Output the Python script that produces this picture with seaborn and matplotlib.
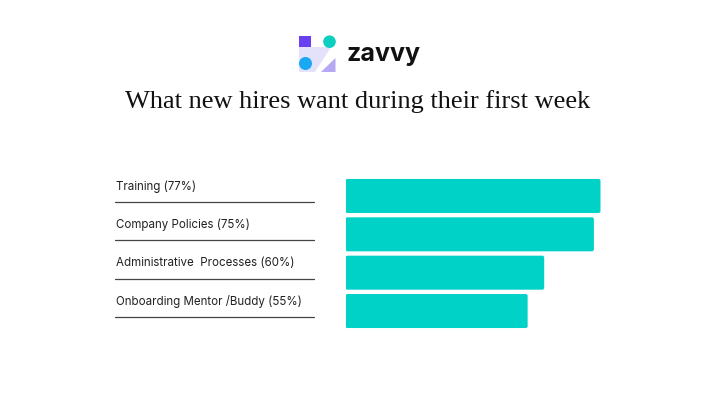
import matplotlib
matplotlib.use("Agg")
import matplotlib.pyplot as plt
import seaborn as sns
import pandas as pd
from matplotlib.transforms import blended_transform_factory
from matplotlib.patches import Rectangle, Circle, Polygon, FancyBboxPatch
from matplotlib.lines import Line2D

# ---- data ----
categories = ["Training", "Company Policies", "Administrative  Processes", "Onboarding Mentor /Buddy"]
values = [77, 75, 60, 55]
title = "What new hires want during their first week"
brand = "zavvy"

sns.set_theme(style="white")
plt.rcParams['font.family'] = ['Inter', 'DejaVu Sans']

W, H = 705, 398
fig = plt.figure(figsize=(W / 100, H / 100), dpi=100)
fig.patch.set_facecolor('white')


def fx(px):
    return px / W


def fy(py):
    return 1 - py / H


# ---- bars ----
ax_w_px = 255 / 0.77
ax_h_px = 330.2 - 176.8
ax = fig.add_axes([fx(345.5), fy(330.2), ax_w_px / W, ax_h_px / H])
df = pd.DataFrame({"category": categories, "value": values})
sns.barplot(data=df, x="value", y="category", color="#00d2c8", width=0.887,
            saturation=1, ax=ax, orient='h')
ax.set_xlim(0, 100)
ax.set_ylim(len(categories) - 0.5, -0.5)
ax.axis('off')

# slightly rounded bar corners
px_x = 100 / ax_w_px      # x data units per pixel
px_y = len(categories) / ax_h_px  # y data units per pixel
for p in list(ax.patches):
    x0, y0, w, h = p.get_x(), p.get_y(), p.get_width(), p.get_height()
    fc = p.get_facecolor()
    p.remove()
    ax.add_patch(FancyBboxPatch((x0, y0), w, h,
                                boxstyle=f"round,pad=0,rounding_size={2.0 * px_x}",
                                mutation_aspect=px_y / px_x,
                                facecolor=fc, edgecolor='none'))

# ---- left labels with underlines ----
trans = blended_transform_factory(fig.transFigure, ax.transData)
for i, (c, v) in enumerate(zip(categories, values)):
    fig.text(fx(116), i - 0.24, f"{c} ({v}%)", transform=trans, ha='left', va='center',
             fontsize=8.3, color='#222222')
    fig.add_artist(Line2D([fx(115), fx(314)], [i + 0.16, i + 0.16], transform=trans,
                          color='#444444', lw=0.9))

# ---- title ----
fig.text(fx(357.5), fy(107.7), title, fontsize=19, family=['Liberation Serif', 'DejaVu Serif'],
         ha='center', va='baseline', color='#111111')

# ---- logo ----
lax = fig.add_axes([0, 0, 1, 1], zorder=-1)
lax.set_xlim(0, W)
lax.set_ylim(H, 0)
lax.axis('off')
lax.add_patch(Polygon([(299, 47), (331, 47), (315, 72), (299, 72)], closed=True,
                      facecolor='#e4e1fa', edgecolor='none'))
lax.add_patch(Polygon([(321, 72), (335.5, 58), (335.5, 72)], closed=True,
                      facecolor='#b6a8f4', edgecolor='none'))
lax.add_patch(Rectangle((299, 35.5), 11.5, 11.5, facecolor='#6a3ff0', edgecolor='none'))
lax.add_patch(Circle((329.5, 41.7), 6.3, facecolor='#0ccfbf', edgecolor='none'))
lax.add_patch(Circle((305.5, 63.5), 6.5, facecolor='#1aa8f5', edgecolor='none'))

fig.text(fx(346.5), fy(60.5), brand, fontsize=18, fontweight='bold', ha='left',
         va='baseline', color='#111111')

fig.savefig("out.png", dpi=100, facecolor='white')
